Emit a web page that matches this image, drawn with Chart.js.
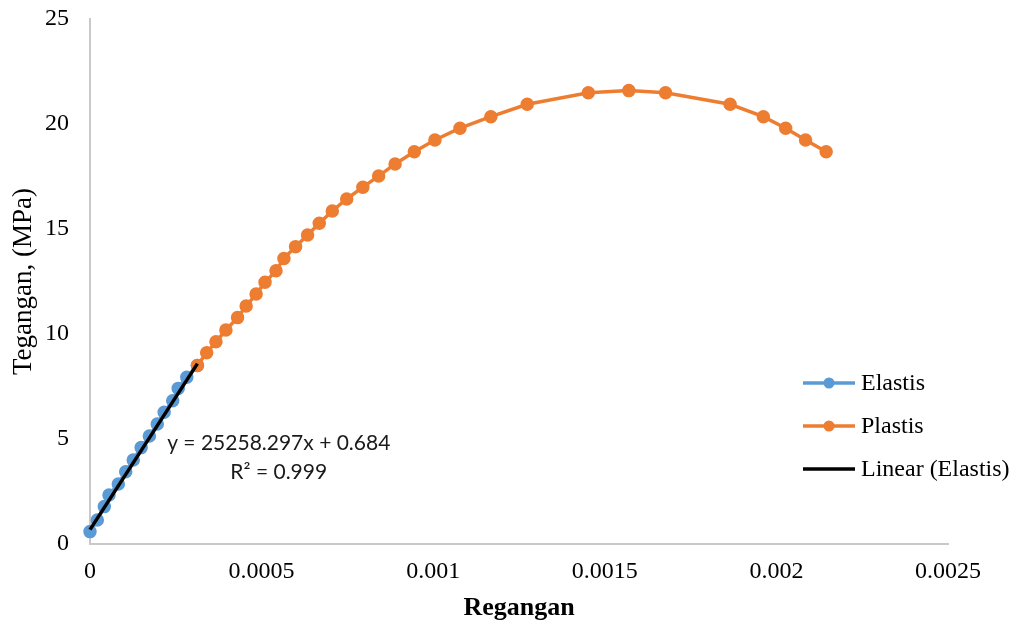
<!doctype html>
<html lang="en">
<head>
    <meta charset="UTF-8">
    <title>Tegangan - Regangan</title>
    <style>
        html, body { margin: 0; padding: 0; background: #fff; }
        #wrap { width: 1016px; height: 628px; }
    </style>
</head>
<body>
    <div id="wrap">
        <canvas id="myChart" width="1016" height="628"></canvas>
    </div>
<script src="https://cdn.jsdelivr.net/npm/chart.js"></script>
<script>
    // regangan / tegangan (MPa) daerah elastis
    var elasticStrain = [0, 0.0000213, 0.0000417, 0.0000554, 0.0000825, 0.000104, 0.000126, 0.000149,
                         0.000173, 0.000196, 0.000216, 0.000241, 0.000257, 0.000282, 0.000313];
    var elasticStress = [0.59, 1.14, 1.78, 2.33, 2.86, 3.44, 4.0, 4.59,
                         5.14, 5.71, 6.27, 6.82, 7.41, 7.94, 8.5];

    // daerah plastis
    var plasticStrain = [0.000313, 0.00034, 0.000367, 0.000396, 0.00043, 0.000455, 0.000484, 0.00051,
                         0.000542, 0.000565, 0.000599, 0.000634, 0.000668, 0.000706, 0.000748, 0.000795,
                         0.000841, 0.000889, 0.000945, 0.001005, 0.001078, 0.001168, 0.001274, 0.001452,
                         0.00157, 0.001677, 0.001865, 0.001962, 0.002027, 0.002085, 0.002145];
    var plasticStress = [8.5, 9.11, 9.63, 10.19, 10.78, 11.33, 11.9, 12.46,
                         13.01, 13.6, 14.16, 14.71, 15.27, 15.86, 16.43, 16.99,
                         17.52, 18.1, 18.68, 19.24, 19.8, 20.35, 20.94, 21.49,
                         21.59, 21.49, 20.94, 20.35, 19.8, 19.24, 18.68];

    // garis tren linear (elastis)
    var slope = 25258.297;
    var intercept = 0.684;
    var rSquared = 0.999;

    var xTickLabels = ['0', '0.0005', '0.001', '0.0015', '0.002', '0.0025'];
    var yTickLabels = ['0', '5', '10', '15', '20', '25'];

    var blue = '#5B9BD5';
    var orange = '#ED7D31';

    function toPoints(xs, ys) {
        var pts = [];
        for (var i = 0; i < xs.length; i++) pts.push({ x: xs[i], y: ys[i] });
        return pts;
    }

    var trendX = [Math.min.apply(null, elasticStrain), Math.max.apply(null, elasticStrain)];
    var trendPoints = trendX.map(function (x) { return { x: x, y: slope * x + intercept }; });

    // legenda di kanan bawah
    var legendPlugin = {
        id: 'sideLegend',
        afterDraw: function (chart) {
            var ctx = chart.ctx;
            var y = 383;
            ctx.save();
            chart.data.datasets.forEach(function (ds) {
                ctx.strokeStyle = ds.borderColor;
                ctx.lineWidth = 3.5;
                ctx.beginPath();
                ctx.moveTo(803, y);
                ctx.lineTo(855, y);
                ctx.stroke();
                if (ds.pointRadius > 0) {
                    ctx.fillStyle = ds.borderColor;
                    ctx.beginPath();
                    ctx.arc(829, y, 5.5, 0, Math.PI * 2);
                    ctx.fill();
                }
                ctx.fillStyle = '#000';
                ctx.font = '24px "Liberation Serif", "Times New Roman", serif';
                ctx.textBaseline = 'middle';
                ctx.textAlign = 'left';
                ctx.fillText(ds.label, 861, y + 1);
                y += 43;
            });
            ctx.restore();
        }
    };

    // persamaan garis tren
    var equationPlugin = {
        id: 'trendEquation',
        afterDraw: function (chart) {
            var ctx = chart.ctx;
            var xs = chart.scales.x, ys = chart.scales.y;
            var cx = xs.getPixelForValue(0.00055);
            ctx.save();
            ctx.fillStyle = '#1a1a1a';
            ctx.font = '21px Lato, "Liberation Sans", sans-serif';
            ctx.textAlign = 'center';
            ctx.textBaseline = 'middle';
            ctx.fillText('y = ' + slope.toFixed(3) + 'x + ' + intercept.toFixed(3), cx, ys.getPixelForValue(4.8));
            ctx.fillText('R\u00B2 = ' + rSquared.toFixed(3), cx, ys.getPixelForValue(3.4));
            ctx.restore();
        }
    };

    var serif = '"Liberation Serif", "Times New Roman", serif';

    var ctx = document.getElementById('myChart').getContext('2d');
    var chart = new Chart(ctx, {
        type: 'scatter',
        data: {
            datasets: [{
                label: 'Elastis',
                data: toPoints(elasticStrain, elasticStress),
                showLine: true,
                borderColor: blue,
                backgroundColor: blue,
                borderWidth: 3.5,
                pointRadius: 6,
                pointBorderWidth: 1.5,
                clip: false,
                order: 3
            }, {
                label: 'Plastis',
                data: toPoints(plasticStrain, plasticStress),
                showLine: true,
                borderColor: orange,
                backgroundColor: orange,
                borderWidth: 3.5,
                pointRadius: 6,
                pointBorderWidth: 1.5,
                clip: false,
                order: 2
            }, {
                label: 'Linear (Elastis)',
                data: trendPoints,
                showLine: true,
                borderColor: '#000',
                backgroundColor: '#000',
                borderWidth: 3.5,
                pointRadius: 0,
                clip: false,
                order: 1
            }]
        },
        options: {
            responsive: false,
            animation: false,
            layout: { padding: { top: 19, right: 68, bottom: 0, left: 0 } },
            plugins: {
                legend: { display: false },
                tooltip: { enabled: false }
            },
            scales: {
                x: {
                    type: 'linear',
                    min: 0,
                    max: 0.0025,
                    grid: { display: false, drawTicks: false },
                    border: { display: true, color: '#c9c9c9', width: 2 },
                    ticks: {
                        stepSize: 0.0005,
                        padding: 13,
                        color: '#000',
                        font: { family: serif, size: 24 },
                        callback: function (v, i) { return xTickLabels[i]; }
                    },
                    title: {
                        display: true,
                        text: 'Regangan',
                        color: '#000',
                        font: { family: serif, size: 26, weight: 'bold' },
                        padding: { top: 0, bottom: 4 }
                    },
                    afterFit: function (s) { s.height = 84; }
                },
                y: {
                    min: 0,
                    max: 25,
                    grid: { display: false, drawTicks: false },
                    border: { display: true, color: '#c9c9c9', width: 2 },
                    ticks: {
                        stepSize: 5,
                        padding: 21,
                        color: '#000',
                        font: { family: serif, size: 24 },
                        callback: function (v, i) { return yTickLabels[i]; }
                    },
                    title: {
                        display: true,
                        text: 'Tegangan, (MPa)',
                        color: '#000',
                        font: { family: serif, size: 27 },
                        padding: { top: 8, bottom: 0 }
                    },
                    afterFit: function (s) {
                        s.width = 90;
                        s.paddingTop = 0;
                        s.paddingBottom = 0;
                    }
                }
            }
        },
        plugins: [legendPlugin, equationPlugin]
    });
</script>
</body>
</html>
